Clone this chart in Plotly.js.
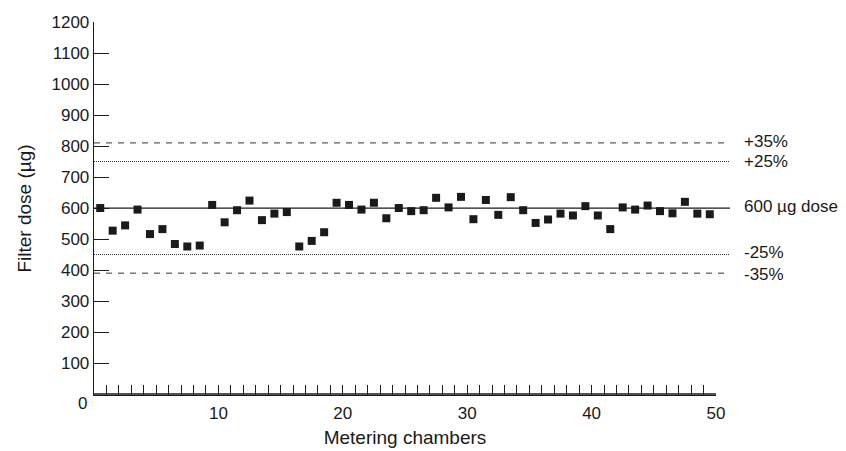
<!DOCTYPE html>
<html>
<head>
<meta charset="utf-8">
<script src="https://cdn.plot.ly/plotly-3.0.1.min.js"></script>
<style>html,body{margin:0;padding:0;background:#fff;}#chart{width:846px;height:451px;}</style>
</head>
<body>
<div id="chart"></div>
<script>
// Data
const chambers = Array.from({length: 50}, (_, i) => i + 1);
const doses = [600, 527, 544, 595, 516, 532, 484, 476, 479, 610,
               554, 593, 624, 561, 582, 587, 476, 494, 522, 617,
               610, 595, 617, 567, 600, 590, 593, 633, 602, 636,
               564, 626, 578, 635, 593, 552, 563, 582, 576, 606,
               576, 532, 602, 595, 608, 590, 583, 620, 582, 580];
const refLevels = [
  {value: 810, label: '+35%', dash: 'dash', shift: 1},
  {value: 750, label: '+25%', dash: 'dot', shift: 0},
  {value: 600, label: '600 µg dose', dash: 'solid', shift: 2},
  {value: 450, label: '-25%', dash: 'dot', shift: 2},
  {value: 390, label: '-35%', dash: 'dash', shift: -1}
];
const yTickVals = [100,200,300,400,500,600,700,800,900,1000,1100,1200];
const xTickVals = [10,20,30,40,50];
const xMinorVals = chambers.filter(v => v % 10 !== 0);

const ink = '#1a1a1a';
const fam = 'Liberation Sans, Arial, sans-serif';
const font = {family: fam, size: 17, color: ink};
const labelFont = {family: fam, size: 17, color: ink};
const titleFont = {family: fam, size: 19, color: ink};

const trace = {
  x: chambers.map(c => c - 0.5),
  y: doses,
  type: 'scatter',
  mode: 'markers',
  marker: {symbol: 'square', size: 8, color: ink},
  cliponaxis: false,
  hoverinfo: 'x+y'
};

const xEnd = (730 - 94) / (716 - 94);
const shapes = refLevels.map(l => ({
  type: 'line', xref: 'paper', yref: 'y',
  x0: 0, x1: xEnd, y0: l.value, y1: l.value,
  line: {color: l.dash === 'solid' ? ink : '#333', width: l.dash === 'solid' ? 1.3 : 1,
         dash: l.dash === 'dot' ? '1px,1px' : (l.dash === 'dash' ? '6px,6px' : 'solid')}
}));
// x axis baseline (reinforces the axis line)
shapes.push({type: 'line', xref: 'x', yref: 'y', x0: 0, x1: 50, y0: 0, y1: 0,
             layer: 'above', line: {color: ink, width: 1.5}});

const annotations = refLevels.map(l => ({
  xref: 'paper', yref: 'y', x: (742 - 94) / (716 - 94), y: l.value,
  text: l.label, showarrow: false, xanchor: 'left', yanchor: 'middle',
  yshift: l.shift, font: labelFont
}));
annotations.push({
  xref: 'paper', yref: 'y', x: 0, y: 0, text: '0', showarrow: false,
  xanchor: 'right', yanchor: 'middle', xshift: -5, yshift: -9, font: font
});

const layout = {
  width: 846, height: 451,
  margin: {l: 94, r: 130, t: 22, b: 56},
  paper_bgcolor: '#fff', plot_bgcolor: '#fff',
  showlegend: false,
  font: font,
  xaxis: {
    range: [0, 50], showgrid: false, zeroline: false,
    showline: true, linecolor: ink, linewidth: 1.3,
    tickmode: 'array', tickvals: xTickVals, ticktext: xTickVals.map(String),
    ticks: 'inside', ticklen: 10, tickwidth: 1, tickcolor: ink,
    minor: {tickmode: 'array', tickvals: xMinorVals, ticks: 'inside', ticklen: 10, tickwidth: 1, tickcolor: ink, showgrid: false},
    tickfont: font, ticklabelstandoff: 2,
    title: {text: 'Metering chambers', font: titleFont, standoff: 9},
    fixedrange: true
  },
  yaxis: {
    range: [-3, 1200], showgrid: false, zeroline: false,
    showline: true, linecolor: ink, linewidth: 1.3,
    tickmode: 'array', tickvals: yTickVals, ticktext: yTickVals.map(String),
    ticks: 'inside', ticklen: 15, tickwidth: 1, tickcolor: ink,
    tickfont: font,
    title: {text: 'Filter dose (µg)', font: titleFont, standoff: 14},
    fixedrange: true
  },
  shapes: shapes,
  annotations: annotations
};

Plotly.newPlot('chart', [trace], layout, {displayModeBar: false, staticPlot: true});
</script>
</body>
</html>
